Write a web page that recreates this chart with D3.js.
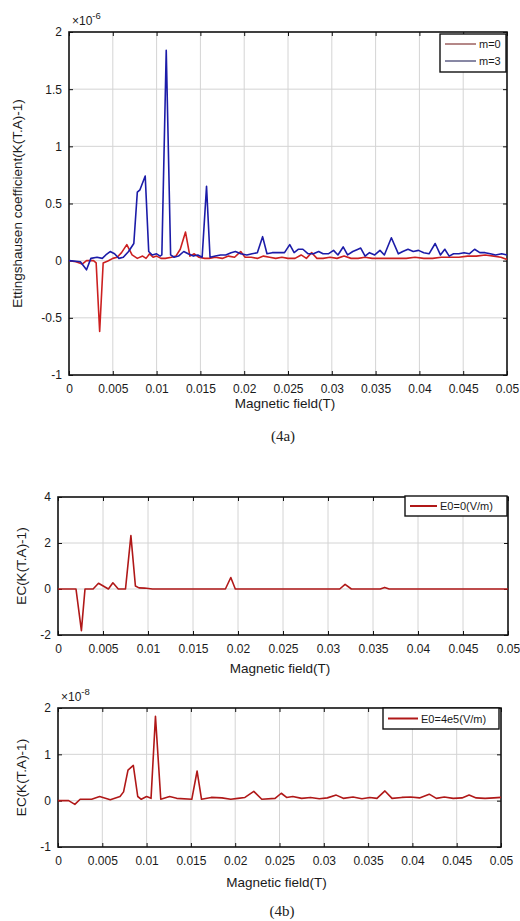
<!DOCTYPE html>
<html>
<head>
<meta charset="utf-8">
<script src="https://cdn.jsdelivr.net/npm/d3@7"></script>
<style>
  body { margin: 0; background: #fff; }
  svg { display: block; font-family: "Liberation Sans", Arial, sans-serif; }
</style>
</head>
<body>
<svg id="fig" width="520" height="921"></svg>
<script>
// x ticks shared by all panels
const fieldTicks = [0, 0.005, 0.01, 0.015, 0.02, 0.025, 0.03, 0.035, 0.04, 0.045, 0.05];
const fieldTickLabels = ["0", "0.005", "0.01", "0.015", "0.02", "0.025", "0.03", "0.035", "0.04", "0.045", "0.05"];

// (4a) m=0, values in 1e-6
const fieldM0 = [0, 0.0008, 0.0015, 0.002, 0.0028, 0.0031, 0.0035, 0.0039, 0.0045, 0.005,
  0.0055, 0.006, 0.0066, 0.0072, 0.0078, 0.0084, 0.0088, 0.0092, 0.0096, 0.01,
  0.0105, 0.011, 0.0117, 0.0122, 0.0127, 0.0133, 0.0138, 0.0143, 0.0148, 0.0155,
  0.016, 0.0167, 0.0175, 0.0182, 0.0189, 0.0196, 0.0201, 0.0208, 0.0215, 0.0222,
  0.0229, 0.0236, 0.0243, 0.025, 0.0258, 0.0265, 0.0271, 0.0277, 0.0283, 0.029,
  0.0298, 0.0306, 0.0314, 0.0322, 0.033, 0.0338, 0.0346, 0.0355, 0.0365, 0.0375,
  0.0385, 0.0395, 0.0405, 0.0415, 0.0425, 0.0435, 0.0445, 0.0455, 0.0465, 0.0475,
  0.0485, 0.0493, 0.05];
const ettM0 = [0, -0.01, -0.03, 0.0, 0.0, -0.02, -0.62, -0.02, 0.0, 0.02,
  0.03, 0.07, 0.14, 0.05, 0.02, 0.04, 0.02, 0.06, 0.03, 0.04,
  0.02, 0.02, 0.03, 0.04, 0.1, 0.25, 0.04, 0.06, 0.03, 0.02,
  0.02, 0.03, 0.02, 0.04, 0.03, 0.08, 0.03, 0.03, 0.02, 0.04,
  0.03, 0.02, 0.03, 0.02, 0.02, 0.05, 0.02, 0.07, 0.02, 0.02,
  0.03, 0.02, 0.04, 0.02, 0.02, 0.03, 0.02, 0.02, 0.02, 0.02,
  0.02, 0.03, 0.02, 0.02, 0.03, 0.03, 0.03, 0.04, 0.04, 0.05,
  0.04, 0.03, 0.01];

// (4a) m=3, values in 1e-6
const fieldM3 = [0, 0.0013, 0.002, 0.0025, 0.0032, 0.0038, 0.0042, 0.0047, 0.0052, 0.0057,
  0.0062, 0.0068, 0.0074, 0.0078, 0.0081, 0.0087, 0.0091, 0.0095, 0.01, 0.0104,
  0.0106, 0.0111, 0.0116, 0.012, 0.0125, 0.0131, 0.0136, 0.0142, 0.0147, 0.0152,
  0.0157, 0.0161, 0.0167, 0.0173, 0.0179, 0.0185, 0.019, 0.0196, 0.0203, 0.0209,
  0.0215, 0.0221, 0.0226, 0.0232, 0.0239, 0.0246, 0.0252, 0.0257, 0.0262, 0.0267,
  0.0273, 0.0279, 0.0285, 0.029, 0.0296, 0.0302, 0.0307, 0.0313, 0.0318, 0.0324,
  0.033, 0.0333, 0.0338, 0.0343, 0.0349, 0.0355, 0.036, 0.0368, 0.0376, 0.0381,
  0.0387, 0.0393, 0.0399, 0.0405, 0.0411, 0.0418, 0.0424, 0.0429, 0.0434, 0.0439,
  0.0445, 0.0451, 0.0457, 0.0463, 0.0469, 0.0475, 0.0481, 0.0487, 0.0494, 0.05];
const ettM3 = [0, -0.01, -0.08, 0.02, 0.03, 0.02, 0.05, 0.08, 0.06, 0.02,
  0.03, 0.08, 0.15, 0.6, 0.62, 0.74, 0.08, 0.05, 0.06, 0.04,
  0.05, 1.84, 0.05, 0.03, 0.04, 0.08, 0.06, 0.04, 0.05, 0.03,
  0.65, 0.03, 0.04, 0.05, 0.05, 0.07, 0.08, 0.06, 0.05, 0.06,
  0.07, 0.21, 0.06, 0.07, 0.07, 0.07, 0.14, 0.07, 0.1, 0.1,
  0.06, 0.06, 0.08, 0.06, 0.06, 0.09, 0.05, 0.12, 0.05, 0.08,
  0.1, 0.11, 0.04, 0.07, 0.05, 0.09, 0.05, 0.2, 0.06, 0.08,
  0.1, 0.08, 0.09, 0.07, 0.06, 0.15, 0.05, 0.1, 0.04, 0.06,
  0.06, 0.07, 0.06, 0.1, 0.07, 0.07, 0.06, 0.05, 0.06, 0.05];

// (4b) top, E0=0
const fieldE0 = [0, 0.002, 0.0026, 0.003, 0.0039, 0.0045, 0.0056, 0.0061, 0.0067, 0.0075,
  0.0081, 0.0086, 0.009, 0.0096, 0.0105, 0.0186, 0.0192, 0.0197, 0.0313, 0.0319,
  0.0326, 0.0358, 0.0363, 0.0368, 0.05];
const ecE0 = [0, 0, -1.81, 0, 0, 0.25, 0, 0.27, 0, 0,
  2.32, 0.13, 0.05, 0.04, 0, 0, 0.5, 0, 0, 0.2,
  0, 0, 0.07, 0, 0];

// (4b) bottom, E0=4e5, values in 1e-8
const fieldE4 = [0, 0.0012, 0.0019, 0.0025, 0.0038, 0.0047, 0.0059, 0.007, 0.0074, 0.0079,
  0.0085, 0.009, 0.0094, 0.01, 0.0105, 0.011, 0.0116, 0.0126, 0.0134, 0.0151,
  0.0157, 0.0162, 0.0173, 0.0185, 0.0195, 0.0203, 0.0211, 0.0221, 0.023, 0.0245,
  0.0252, 0.0258, 0.0265, 0.0275, 0.0285, 0.0295, 0.0304, 0.0314, 0.0322, 0.0333,
  0.0343, 0.0352, 0.036, 0.0369, 0.0377, 0.0388, 0.0398, 0.0408, 0.0419, 0.0427,
  0.0436, 0.0446, 0.0456, 0.0464, 0.0472, 0.0482, 0.0492, 0.05];
const ecE4 = [0, 0, -0.08, 0.03, 0.03, 0.09, 0.02, 0.09, 0.19, 0.66,
  0.76, 0.09, 0.03, 0.09, 0.05, 1.82, 0.03, 0.09, 0.05, 0.03,
  0.64, 0.03, 0.07, 0.06, 0.03, 0.05, 0.07, 0.2, 0.03, 0.05,
  0.16, 0.07, 0.09, 0.05, 0.07, 0.04, 0.06, 0.12, 0.05, 0.08,
  0.04, 0.07, 0.05, 0.21, 0.05, 0.07, 0.08, 0.06, 0.14, 0.05,
  0.08, 0.05, 0.06, 0.12, 0.06, 0.05, 0.06, 0.07];

const ticksA = [-1, -0.5, 0, 0.5, 1, 1.5, 2];
const ticksB = [-2, 0, 2, 4];
const ticksC = [-1, 0, 1, 2];

const svg = d3.select("#fig");

function zip(xs, ys) { return xs.map((x, i) => [x, ys[i]]); }

function panel(opt) {
  const x = d3.scaleLinear().domain([0, 0.05]).range([opt.left, opt.right]);
  const y = d3.scaleLinear().domain(opt.yDomain).range([opt.bottom, opt.top]);
  const g = svg.append("g");

  // grid
  g.append("g").selectAll("line").data(fieldTicks.slice(1, -1)).join("line")
    .attr("x1", d => x(d)).attr("x2", d => x(d))
    .attr("y1", opt.top).attr("y2", opt.bottom)
    .attr("stroke", "#d4d4d4").attr("stroke-width", 1);
  g.append("g").selectAll("line").data(opt.yTicks.slice(1, -1)).join("line")
    .attr("y1", d => y(d)).attr("y2", d => y(d))
    .attr("x1", opt.left).attr("x2", opt.right)
    .attr("stroke", "#d4d4d4").attr("stroke-width", 1);

  // axes with inward ticks
  const fmtX = (d, i) => fieldTickLabels[i];
  g.append("g").attr("transform", `translate(0,${opt.bottom})`)
    .call(d3.axisBottom(x).tickValues(fieldTicks).tickFormat(fmtX).tickSizeInner(-4).tickSizeOuter(0).tickPadding(9));
  g.append("g").attr("transform", `translate(0,${opt.top})`)
    .call(d3.axisTop(x).tickValues(fieldTicks).tickFormat("").tickSizeInner(-4).tickSizeOuter(0));
  g.append("g").attr("transform", `translate(${opt.left},0)`)
    .call(d3.axisLeft(y).tickValues(opt.yTicks).tickFormat(d => String(d)).tickSizeInner(-4).tickSizeOuter(0).tickPadding(7));
  g.append("g").attr("transform", `translate(${opt.right},0)`)
    .call(d3.axisRight(y).tickValues(opt.yTicks).tickFormat("").tickSizeInner(-4).tickSizeOuter(0));
  g.selectAll(".domain").remove();
  g.selectAll(".tick line").attr("stroke", "#111");
  g.selectAll(".tick text").attr("font-size", 12).attr("fill", "#1a1a1a");

  // frame
  g.append("rect").attr("x", opt.left).attr("y", opt.top)
    .attr("width", opt.right - opt.left).attr("height", opt.bottom - opt.top)
    .attr("fill", "none").attr("stroke", "#111").attr("stroke-width", 1.6);

  // series
  const line = d3.line().x(d => x(d[0])).y(d => y(d[1]));
  opt.series.forEach(s => {
    g.append("path").datum(zip(s.x, s.y)).attr("d", line)
      .attr("fill", "none").attr("stroke", s.color).attr("stroke-width", 1.6)
      .attr("stroke-linejoin", "round");
  });

  // axis titles
  g.append("text").attr("x", (opt.left + opt.right) / 2 - 3).attr("y", opt.xLabelY)
    .attr("text-anchor", "middle").attr("font-size", 13.5).attr("fill", "#1a1a1a")
    .text("Magnetic field(T)");
  g.append("text")
    .attr("transform", `translate(${opt.yLabelX},${(opt.top + opt.bottom) / 2}) rotate(-90)`)
    .attr("text-anchor", "middle").attr("font-size", 13.5).attr("fill", "#1a1a1a")
    .text(opt.yLabel);

  // exponent
  if (opt.exp) {
    const t = g.append("text").attr("x", opt.left + 3).attr("y", opt.top - 7)
      .attr("font-size", 12).attr("fill", "#1a1a1a");
    t.append("tspan").text("\u00d7" + "10");
    t.append("tspan").attr("dy", -6).attr("font-size", 9.5).text(opt.exp);
  }

  // legend
  const L = opt.legend;
  g.append("rect").attr("x", L.x).attr("y", L.y).attr("width", L.w).attr("height", L.h)
    .attr("fill", "#fff").attr("stroke", "#111").attr("stroke-width", 1.4);
  L.items.forEach((it, i) => {
    const cy = L.y + L.first + i * L.step;
    g.append("line").attr("x1", L.x + 5).attr("x2", L.x + 5 + L.len)
      .attr("y1", cy).attr("y2", cy).attr("stroke", it.color).attr("stroke-width", it.width);
    g.append("text").attr("x", L.x + 8 + L.len).attr("y", cy + 4)
      .attr("font-size", 11).attr("fill", "#1a1a1a").text(it.label);
  });
}

panel({
  left: 69, right: 507, top: 32, bottom: 375,
  yDomain: [-1, 2], yTicks: ticksA,
  exp: "-6",
  yLabel: "Ettingshausen coefficient(K(T.A)-1)", yLabelX: 22, xLabelY: 408,
  series: [
    { x: fieldM0, y: ettM0, color: "#cc2020" },
    { x: fieldM3, y: ettM3, color: "#1c1ca8" }
  ],
  legend: { x: 440, y: 34, w: 66, h: 38, first: 10, step: 17, len: 31,
    items: [{ label: "m=0", color: "#6a1010", width: 1 }, { label: "m=3", color: "#10104a", width: 1 }] }
});

panel({
  left: 58, right: 508, top: 497, bottom: 635,
  yDomain: [-2, 4], yTicks: ticksB,
  yLabel: "EC(K(T.A)-1)", yLabelX: 26, xLabelY: 673,
  series: [{ x: fieldE0, y: ecE0, color: "#b01818" }],
  legend: { x: 405, y: 496, w: 102, h: 20, first: 10, step: 0, len: 27,
    items: [{ label: "E0=0(V/m)", color: "#b01818", width: 2 }] }
});

panel({
  left: 58, right: 501, top: 708, bottom: 847,
  yDomain: [-1, 2], yTicks: ticksC,
  exp: "-8",
  yLabel: "EC(K(T.A)-1)", yLabelX: 26, xLabelY: 887,
  series: [{ x: fieldE4, y: ecE4, color: "#b01818" }],
  legend: { x: 383, y: 708, w: 116, h: 21, first: 10.5, step: 0, len: 30,
    items: [{ label: "E0=4e5(V/m)", color: "#b01818", width: 2 }] }
});

// figure captions
svg.append("text").attr("x", 283).attr("y", 441).attr("text-anchor", "middle")
  .attr("font-family", "'Liberation Serif', 'DejaVu Serif', serif").attr("font-size", 15)
  .attr("fill", "#222").text("(4a)");
svg.append("text").attr("x", 282).attr("y", 916).attr("text-anchor", "middle")
  .attr("font-family", "'Liberation Serif', 'DejaVu Serif', serif").attr("font-size", 15)
  .attr("fill", "#222").text("(4b)");
</script>
</body>
</html>
